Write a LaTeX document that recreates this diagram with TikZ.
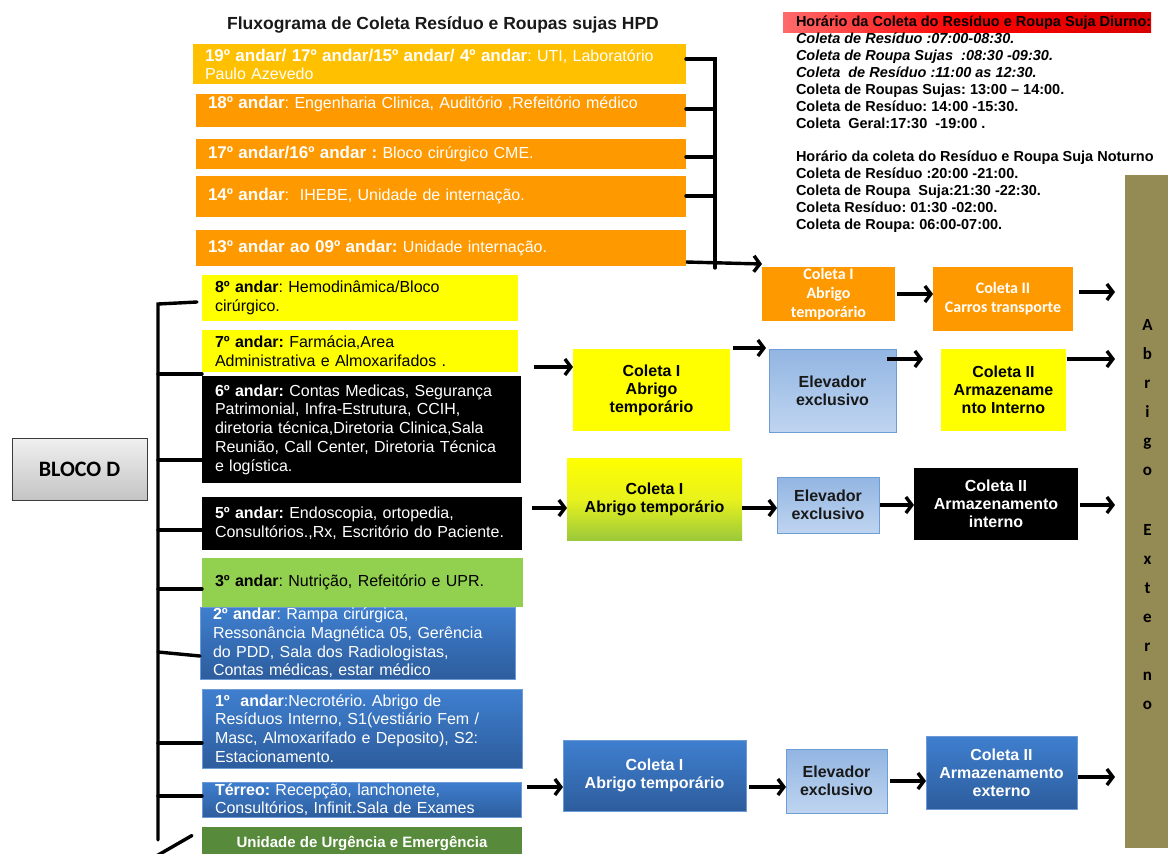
\documentclass[tikz,border=0pt]{standalone}
\usepackage{fontspec}
\setmainfont{Liberation Sans}
\newfontfamily\carl{Carlito}
\usetikzlibrary{arrows.meta,calc}
\frenchspacing
\definecolor{gold}{HTML}{FFC000}
\definecolor{orng}{HTML}{FF9900}
\definecolor{yel}{HTML}{FFFF00}
\definecolor{lgreen}{HTML}{92D050}
\definecolor{dgreen}{HTML}{578B3B}
\definecolor{bltop}{HTML}{3F7FCF}
\definecolor{blbot}{HTML}{2D5D9D}
\definecolor{bledge}{HTML}{6C9BD6}
\definecolor{eltop}{HTML}{92B5E2}
\definecolor{elbot}{HTML}{BFD5F0}
\definecolor{eledge}{HTML}{6E9CD5}
\definecolor{olive}{HTML}{948A54}
\definecolor{ygmid}{HTML}{E8F21C}
\definecolor{ygbot}{HTML}{9CC93B}
\definecolor{gtop}{HTML}{F0F0F0}
\definecolor{gbot}{HTML}{C4C4C4}
\definecolor{gedge}{HTML}{3C3C3C}
\definecolor{redl}{HTML}{FF6A6A}
\definecolor{redm}{HTML}{FF0000}
\definecolor{redr}{HTML}{D80000}
\begin{document}
\begin{tikzpicture}[x=1pt,y=-1pt,
 every node/.style={inner sep=0pt, outer sep=0pt},
 topbox/.style={anchor=north west, inner xsep=12pt, align=left, text=white, font=\fontsize{16}{18}\selectfont},
 lbox/.style={anchor=north west, inner xsep=13pt, align=left, font=\fontsize{16}{18.7}\selectfont},
 flow/.style={anchor=north west, align=center, font=\bfseries\fontsize{16}{18}\selectfont},
 flowc/.style={anchor=north west, align=center, text=white, font=\carl\bfseries\fontsize{16}{19}\selectfont},
 bluebox/.style={top color=bltop, bottom color=blbot, draw=bledge, line width=0.8pt, text=white},
 elev/.style={top color=eltop, bottom color=elbot, draw=eledge, line width=1pt, text=black!90},
 brk/.style={line width=3.4pt, line cap=round},
 arr/.style={line width=3.4pt, -{Straight Barb[length=6pt,width=16pt]}},
 sch/.style={anchor=base west, font=\bfseries\fontsize{14.5}{17}\selectfont}
]
\useasboundingbox (0,0) rectangle (1168,854);
\fill[white] (0,0) rectangle (1168,854);

% title
\node[font=\bfseries\fontsize{17.5}{20}\selectfont, text=black!90] (title) at (443,25) {Fluxograma de Coleta Resíduo e Roupas sujas HPD};

% top boxes
\node[topbox, fill=gold, minimum width=493pt, minimum height=40pt, text width=469pt] (b19) at (193,44)
 {{\bfseries\fontsize{17}{18}\selectfont 19º andar/ 17º andar/15º andar/ 4º andar}: UTI, Laboratório\\Paulo Azevedo};
\node[topbox, fill=orng, minimum width=490pt, minimum height=33pt, text width=466pt, text depth=17pt] (b18) at (196,94)
 {{\bfseries\fontsize{17}{18}\selectfont 18º andar}: Engenharia Clinica, Auditório ,Refeitório médico};
\node[topbox, fill=orng, minimum width=490pt, minimum height=30pt, text width=466pt] (b17) at (196,139)
 {{\bfseries\fontsize{17}{18}\selectfont 17º andar/16º andar :} Bloco cirúrgico CME.};
\node[topbox, fill=orng, minimum width=490pt, minimum height=41pt, text width=466pt] (b14) at (196,176)
 {{\bfseries\fontsize{17}{18}\selectfont 14º andar}:\ \ IHEBE, Unidade de internação.};
\node[topbox, fill=orng, minimum width=490pt, minimum height=36pt, text width=466pt] (b13) at (196,230)
 {{\bfseries\fontsize{17}{18}\selectfont 13º andar ao 09º andar:} Unidade internação.};

% schedule
\node[anchor=north west, minimum width=368pt, minimum height=20pt, left color=redl, right color=redr, middle color=redm] (redbar) at (783,12) {};
\node[sch] (s1) at (796,26) {Horário da Coleta do Resíduo e Roupa Suja Diurno:};
\node[sch] (s2) at (796,43) {\itshape Coleta de Resíduo :07:00-08:30.};
\node[sch] (s3) at (796,60) {\itshape Coleta de Roupa Sujas\ \ :08:30 -09:30.};
\node[sch] (s4) at (796,77) {\itshape Coleta\ \ de Resíduo :11:00 as 12:30.};
\node[sch] (s5) at (796,94) {Coleta de Roupas Sujas: 13:00 – 14:00.};
\node[sch] (s6) at (796,111) {Coleta de Resíduo: 14:00 -15:30.};
\node[sch] (s7) at (796,128) {Coleta\ \ Geral:17:30\ \ -19:00 .};
\node[sch] (s8) at (796,161) {Horário da coleta do Resíduo e Roupa Suja Noturno};
\node[sch] (s9) at (796,178) {Coleta de Resíduo :20:00 -21:00.};
\node[sch] (s10) at (796,195) {Coleta de Roupa\ \ Suja:21:30 -22:30.};
\node[sch] (s11) at (796,212) {Coleta Resíduo: 01:30 -02:00.};
\node[sch] (s12) at (796,229) {Coleta de Roupa: 06:00-07:00.};

% abrigo externo
\node[anchor=north west, fill=olive, minimum width=45pt, minimum height=673pt] (abrigo) at (1125,175) {};
\node[align=center, font=\carl\bfseries\fontsize{17}{29}\selectfont, text depth=6pt] (abrigotxt) at (1147.5,517)
 {A\\b\\r\\i\\g\\o\\[31pt]E\\x\\t\\e\\r\\n\\o};

% bloco D
\node[anchor=north west, minimum width=135pt, minimum height=62pt, top color=gtop, bottom color=gbot, draw=gedge, line width=1pt, font=\carl\bfseries\fontsize{22}{24}\selectfont] (bloco) at (12,438) {BLOCO D};

% left boxes
\node[lbox, fill=yel, minimum width=314pt, minimum height=46pt, text width=290pt] (b8) at (202,275)
 {\textbf{8º andar}: Hemodinâmica/Bloco\\cirúrgico.};
\node[lbox, fill=yel, minimum width=314pt, minimum height=42pt, text width=290pt] (b7) at (202,330)
 {\textbf{7º andar:} Farmácia,Area\\Administrativa e Almoxarifados .};
\node[lbox, fill=black, text=white, minimum width=317pt, minimum height=107pt, text width=293pt] (b6) at (202,376)
 {\textbf{6º andar:} Contas Medicas, Segurança\\Patrimonial, Infra-Estrutura, CCIH,\\diretoria técnica,Diretoria Clinica,Sala\\Reunião, Call Center, Diretoria Técnica\\e logística.};
\node[lbox, fill=black, text=white, minimum width=318pt, minimum height=53pt, text width=294pt] (b5) at (202,497)
 {\textbf{5º andar:} Endoscopia, ortopedia,\\Consultórios.,Rx, Escritório do Paciente.};
\node[lbox, fill=lgreen, minimum width=319pt, minimum height=49pt, text width=295pt] (b3) at (202,558)
 {\textbf{3º andar}: Nutrição, Refeitório e UPR.};
\node[lbox, bluebox, minimum width=313pt, minimum height=72pt, text width=289pt] (b2) at (200,607)
 {\textbf{2º andar}: Rampa cirúrgica,\\Ressonância Magnética 05, Gerência\\do PDD, Sala dos Radiologistas,\\Contas médicas, estar médico};
\node[lbox, bluebox, minimum width=318pt, minimum height=79pt, text width=294pt] (b1) at (202,689)
 {\textbf{1º\ \ andar}:Necrotério. Abrigo de\\Resíduos Interno, S1(vestiário Fem /\\Masc, Almoxarifado e Deposito), S2:\\Estacionamento.};
\node[lbox, bluebox, minimum width=317pt, minimum height=35pt, text width=293pt] (bT) at (202,782)
 {\textbf{Térreo:} Recepção, lanchonete,\\Consultórios, Infinit.Sala de Exames};
\node[anchor=north west, fill=dgreen, text=white, minimum width=320pt, minimum height=33pt, font=\bfseries\fontsize{15}{17}\selectfont] (bU) at (202,827)
 {Unidade de Urgência e Emergência};

% flow row 1
\node[flowc, fill=orng, minimum width=133pt, minimum height=54pt] (cI1) at (762,267) {Coleta I\\Abrigo\\temporário};
\node[flowc, fill=orng, minimum width=140pt, minimum height=64pt] (cII1) at (933,267) {Coleta II\\Carros transporte};
% flow row 2
\node[flow, fill=yel, minimum width=157pt, minimum height=82pt] (cI2) at (573,349) {Coleta I\\Abrigo\\temporário};
\node[flow, elev, minimum width=127pt, minimum height=83pt] (e2) at (769,349) {Elevador\\exclusivo};
\node[flow, fill=yel, minimum width=125pt, minimum height=82pt] (cII2) at (941,349) {Coleta II\\Armazename\\nto Interno};
% flow row 3
\node[flow, top color=yel, bottom color=ygbot, middle color=ygmid, minimum width=175pt, minimum height=82pt] (cI3) at (567,458) {Coleta I\\Abrigo temporário};
\node[flow, elev, minimum width=102pt, minimum height=56pt] (e3) at (777,477) {Elevador\\exclusivo};
\node[flow, fill=black, text=white, minimum width=164pt, minimum height=72pt] (cII3) at (914,468) {Coleta II\\Armazenamento\\interno};
% flow row 4
\node[flow, bluebox, minimum width=183pt, minimum height=71pt] (cI4) at (563,740) {Coleta I\\Abrigo temporário};
\node[flow, elev, minimum width=101pt, minimum height=64pt] (e4) at (786,749) {Elevador\\exclusivo};
\node[flow, bluebox, minimum width=151pt, minimum height=73pt] (cII4) at (926,736) {Coleta II\\Armazenamento\\externo};

% top bracket
\coordinate (ts) at (715,59);
\coordinate (tb) at (715,268);
\draw[brk] (b19.east |- ts) -- (ts) -- (tb);
\draw[brk] (b18.east |- 0,109) -- (ts |- 0,109);
\draw[brk] (b17.east |- 0,157) -- (ts |- 0,157);
\draw[brk] (b14.east |- 0,196) -- (ts |- 0,196);
\draw[arr] (b13.east |- 0,262) -- ([yshift=3pt]cI1.north west);

% left bracket
\coordinate (ls) at (158,304);
\coordinate (lb) at (158,840);
\coordinate (ld) at (146,862);
\draw[brk] ($(b8.west |- 0,302)+(-5,0)$) -- (ls) -- (lb);
\draw[brk] (ls |- 0,374) -- (b7.west |- 0,374);
\draw[brk] (ls |- 0,460) -- (b6.west |- 0,460);
\draw[brk] (ls |- 0,530) -- (b5.west |- 0,530);
\draw[brk] (ls |- 0,589) -- (b3.west |- 0,589);
\draw[brk] (ls |- 0,652) -- (b2.west |- 0,656);
\draw[brk] (ls |- 0,743) -- (b1.west |- 0,743);
\draw[brk] (ls |- 0,796) -- (bT.west |- 0,796);
\draw[brk] (ld) -- ([xshift=-10pt,yshift=8pt]bU.west);

% flow arrows row 1
\draw[arr] ([xshift=2pt]cI1.east) -- (cII1.west |- cI1.east);
\draw[arr] ($(cII1.east |- 0,292)+(6,0)$) -- ($(abrigo.west |- 0,292)+(-10,0)$);
% row 2
\coordinate (r2s) at (534,367);
\draw[arr] (r2s) -- (cI2.west |- r2s);
\draw[arr] ([xshift=3pt,yshift=1pt]cI2.north east) -- ([xshift=-3pt,yshift=1pt]e2.north west);
\draw[arr] ($(e2.east |- 0,359)+(-9,0)$) -- ($(cII2.west |- 0,359)+(-18,0)$);
\draw[arr] ($(cII2.east |- 0,359)+(1,0)$) -- ($(abrigo.west |- 0,359)+(-10,0)$);
% row 3
\draw[arr] ($(b5.east |- 0,508)+(10,0)$) -- (cI3.west |- 0,508);
\draw[arr] (cI3.east |- 0,508) -- (e3.west |- 0,508);
\draw[arr] ($(e3.east |- 0,505)+(1,0)$) -- (cII3.west |- 0,505);
\draw[arr] ($(cII3.east |- 0,505)+(2,0)$) -- ($(abrigo.west |- 0,505)+(-10,0)$);
% row 4
\draw[arr] ($(bT.east |- 0,787)+(6,0)$) -- (cI4.west |- 0,787);
\draw[arr] ($(cI4.east |- 0,787)+(3,0)$) -- (e4.west |- 0,787);
\draw[arr] ($(e4.east |- 0,781)+(3,0)$) -- (cII4.west |- 0,781);
\draw[arr] ($(cII4.east |- 0,777)+(1,0)$) -- ($(abrigo.west |- 0,777)+(-10,0)$);
\end{tikzpicture}
\end{document}
